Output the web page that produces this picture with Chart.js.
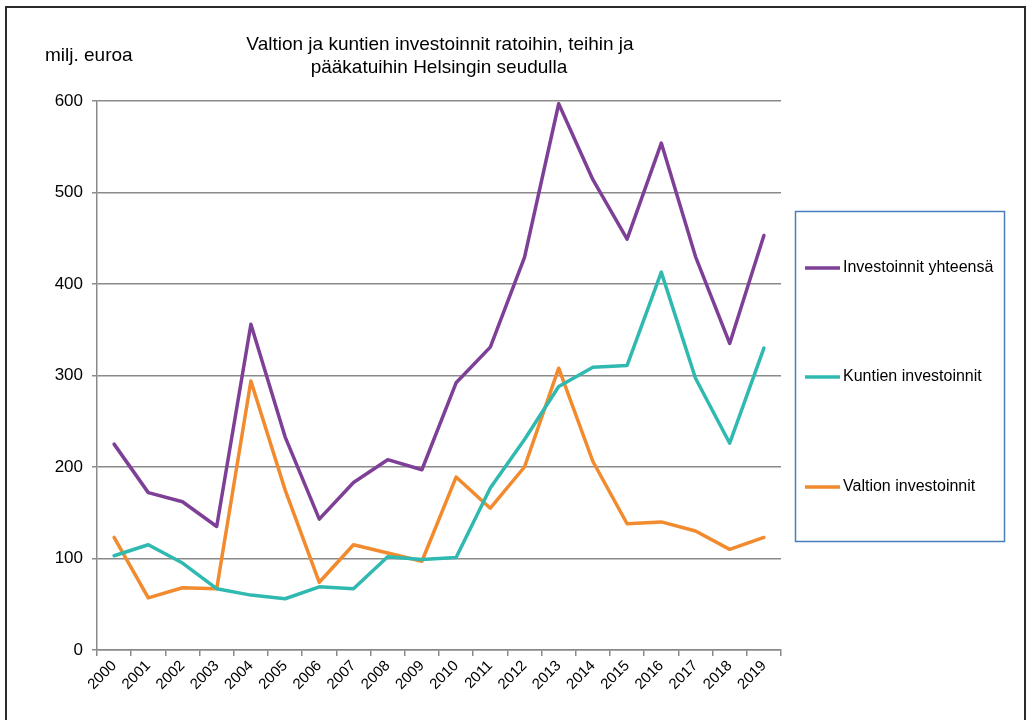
<!DOCTYPE html>
<html lang="fi">
<head>
<meta charset="UTF-8">
<title>Investoinnit Helsingin seudulla</title>
<style>
  html, body { margin: 0; padding: 0; background: #ffffff; }
  #wrap { width: 1032px; height: 720px; position: relative; }
</style>
</head>
<body>
<div id="wrap"><canvas id="plot" width="1032" height="720"></canvas></div>
<script src="https://cdn.jsdelivr.net/npm/chart.js"></script>
<script>
const years = ['2000', '2001', '2002', '2003', '2004', '2005', '2006', '2007', '2008', '2009',
  '2010', '2011', '2012', '2013', '2014', '2015', '2016', '2017', '2018', '2019'];

const yhteensa = [225, 172, 162, 135, 356, 233, 143, 183, 208, 197,
  292, 331, 429, 597, 514, 449, 554, 430, 335, 453];
const kunnat = [103, 115, 95, 67, 60, 56, 69, 67, 102, 99,
  101, 177, 230, 288, 309, 311, 413, 297, 226, 330];
const valtio = [123, 57, 68, 67, 294, 175, 74, 115, 106, 97,
  189, 155, 200, 308, 206, 138, 140, 130, 110, 123];

const yTicks = [0, 100, 200, 300, 400, 500, 600];

const titleLines = ['Valtion ja kuntien investoinnit ratoihin, teihin ja', 'pääkatuihin Helsingin seudulla'];
const unitLabel = 'milj. euroa';

const font = '"Liberation Sans", Arial, sans-serif';
const grey = '#8a8a8a';

// frame, title, unit text and the boxed legend on the right
const decor = {
  id: 'decor',
  beforeDraw(chart) {
    const c = chart.ctx;
    c.save();
    c.strokeStyle = '#2b2b2b';
    c.lineWidth = 2;
    c.beginPath();
    c.moveTo(6, 730);
    c.lineTo(6, 7);
    c.lineTo(1025, 7);
    c.lineTo(1025, 730);
    c.stroke();
    c.restore();
  },
  afterDraw(chart) {
    const c = chart.ctx;
    c.save();
    c.fillStyle = '#000';
    c.textBaseline = 'middle';
    c.font = '19px ' + font;
    c.textAlign = 'center';
    c.fillText(titleLines[0], 440, 45);
    c.fillText(titleLines[1], 439, 68);
    c.textAlign = 'left';
    c.fillText(unitLabel, 45, 56);

    // legend box
    c.strokeStyle = '#4a7ebb';
    c.lineWidth = 1.5;
    c.strokeRect(795.5, 211.5, 209, 330);
    const rows = [268, 377, 487];
    chart.data.datasets.forEach((ds, i) => {
      c.strokeStyle = ds.borderColor;
      c.lineWidth = 3.5;
      c.beginPath();
      c.moveTo(805, rows[i]);
      c.lineTo(840, rows[i]);
      c.stroke();
      c.fillStyle = '#000';
      c.font = '16px ' + font;
      c.fillText(ds.label, 843, rows[i]);
    });
    c.restore();
  }
};

new Chart(document.getElementById('plot'), {
  type: 'line',
  data: {
    labels: years,
    datasets: [
      { label: 'Investoinnit yhteensä', data: yhteensa, borderColor: '#7e3f96', backgroundColor: '#7e3f96' },
      { label: 'Kuntien investoinnit', data: kunnat, borderColor: '#30b9b0', backgroundColor: '#30b9b0' },
      { label: 'Valtion investoinnit', data: valtio, borderColor: '#f28a2e', backgroundColor: '#f28a2e' },
    ]
  },
  options: {
    responsive: false,
    animation: false,
    devicePixelRatio: 1,
    elements: {
      line: { borderWidth: 3.5, tension: 0, borderJoinStyle: 'round', borderCapStyle: 'round' },
      point: { radius: 0, hoverRadius: 0 }
    },
    layout: { padding: { top: 101, right: 251, left: 0, bottom: 0 } },
    plugins: {
      legend: { display: false },
      title: { display: false },
      tooltip: { enabled: false }
    },
    scales: {
      x: {
        offset: true,
        grid: { offset: true, drawOnChartArea: false, drawTicks: true, tickLength: 6, color: grey, lineWidth: 1.5 },
        border: { color: grey, width: 1.5 },
        ticks: {
          color: '#000',
          maxRotation: 45,
          minRotation: 45,
          padding: 1,
          autoSkip: false,
          font: { family: font, size: 15 }
        },
        afterFit(scale) { scale.height = 70; }
      },
      y: {
        min: 0,
        max: 600,
        afterBuildTicks(scale) { scale.ticks = yTicks.map(v => ({ value: v })); },
        grid: { color: grey, lineWidth: 1.5, tickLength: 5 },
        border: { color: grey, width: 1.5 },
        ticks: {
          color: '#000',
          padding: 9,
          font: { family: font, size: 17 }
        },
        afterFit(scale) { scale.width = 97; }
      }
    }
  },
  plugins: [decor]
});
</script>
</body>
</html>
